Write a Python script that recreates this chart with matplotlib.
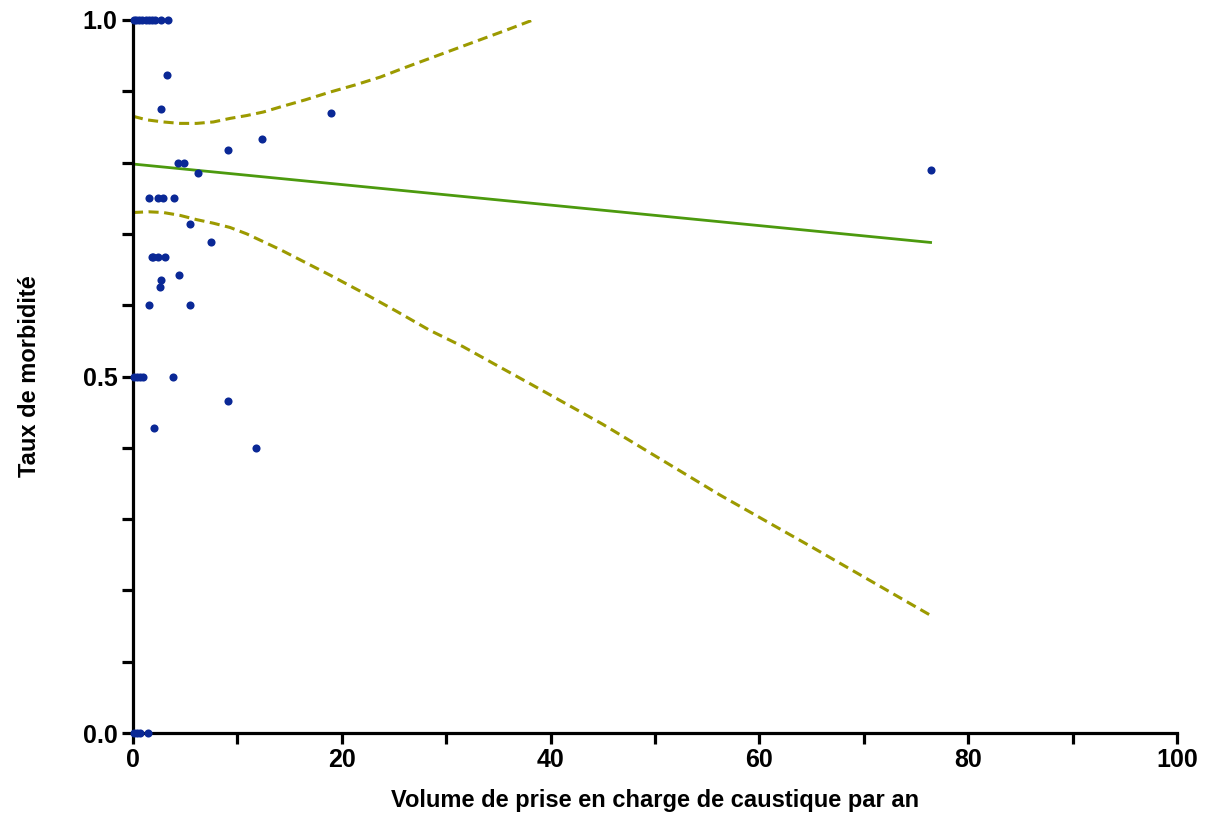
import matplotlib
matplotlib.use("Agg")
import matplotlib.pyplot as plt
from matplotlib.ticker import MultipleLocator, FixedLocator

# scatter points (volume, taux)
vol = [0.1, 0.3, 0.6, 0.9, 1.2, 1.5, 1.8, 2.1, 2.7, 3.4,
       3.3, 2.7, 4.3, 4.9, 6.2, 9.1, 12.4, 19.0, 76.4,
       1.5, 2.4, 2.9, 3.9, 5.5, 7.5, 1.8, 1.9, 2.4, 3.1,
       4.4, 2.7, 2.6, 1.5, 5.5,
       0.1, 0.4, 0.7, 1.0, 3.8, 9.1, 2.0, 11.8,
       0.1, 0.4, 0.7, 1.4]
taux = [1.0, 1.0, 1.0, 1.0, 1.0, 1.0, 1.0, 1.0, 1.0, 1.0,
        0.923, 0.875, 0.8, 0.8, 0.785, 0.818, 0.833, 0.870, 0.789,
        0.75, 0.75, 0.75, 0.75, 0.714, 0.688, 0.667, 0.667, 0.667, 0.667,
        0.642, 0.636, 0.625, 0.6, 0.6,
        0.5, 0.5, 0.5, 0.5, 0.5, 0.466, 0.428, 0.4,
        0.0, 0.0, 0.0, 0.0]

# regression line and 95% band
fit_x = [0, 76.4]
fit_y = [0.798, 0.688]
upper_x = [0, 1.3, 2.9, 4.5, 6.1, 7.7, 9.3, 10.9, 12.5, 14.1, 16.5,
           18.9, 21.3, 23.7, 26.0, 28.4, 30.8, 33.2, 35.8, 38.3]
upper_y = [0.865, 0.860, 0.857, 0.855, 0.855, 0.857, 0.862, 0.866, 0.871,
           0.878, 0.888, 0.899, 0.909, 0.920, 0.933, 0.946, 0.959, 0.972,
           0.986, 1.0]
lower_x = [0, 1.5, 2.9, 4.5, 6.1, 7.7, 9.3, 10.9, 12.5, 14.1, 15.7, 17.3,
           18.9, 22.1, 25.3, 28.4, 31.6, 34.8, 37.9, 45.0, 56.2, 65.0, 76.4]
lower_y = [0.730, 0.731, 0.730, 0.726, 0.720, 0.715, 0.709, 0.700, 0.689,
           0.678, 0.666, 0.654, 0.642, 0.617, 0.591, 0.565, 0.542, 0.516,
           0.491, 0.433, 0.334, 0.261, 0.165]

plt.rcParams['font.family'] = ['Liberation Sans', 'DejaVu Sans']
plt.rcParams['font.weight'] = 'bold'

fig = plt.figure(figsize=(12.1, 8.13), dpi=100)
ax = fig.add_axes([0.1099, 0.0984, 0.8628, 0.877])

ax.plot(upper_x, upper_y, color='#9c9a00', lw=2.2, ls=(0, (3.3, 1.8)))
ax.plot(lower_x, lower_y, color='#9c9a00', lw=2.2, ls=(0, (3.3, 1.8)))
ax.plot(fit_x, fit_y, color='#4c9a0e', lw=2)
ax.scatter(vol, taux, s=34, color='#0a2896', zorder=5, clip_on=False, linewidths=0)

ax.set_xlim(0, 100)
ax.set_ylim(0, 1.0)
ax.xaxis.set_major_locator(MultipleLocator(20))
ax.xaxis.set_minor_locator(MultipleLocator(10))
ax.yaxis.set_major_locator(FixedLocator([0.0, 0.5, 1.0]))
ax.yaxis.set_minor_locator(MultipleLocator(0.1))
ax.set_yticklabels(['0.0', '0.5', '1.0'])

for s in ['top', 'right']:
    ax.spines[s].set_visible(False)
for s in ['left', 'bottom']:
    ax.spines[s].set_linewidth(2.3)

ax.tick_params(which='both', length=8, width=2.3, labelsize=18, pad=3)

ax.set_xlabel('Volume de prise en charge de caustique par an', fontsize=17,
              fontweight='bold', labelpad=12)
ax.set_ylabel('Taux de morbidité', fontsize=17, fontweight='bold', labelpad=30)

fig.savefig('out.png', dpi=100)
